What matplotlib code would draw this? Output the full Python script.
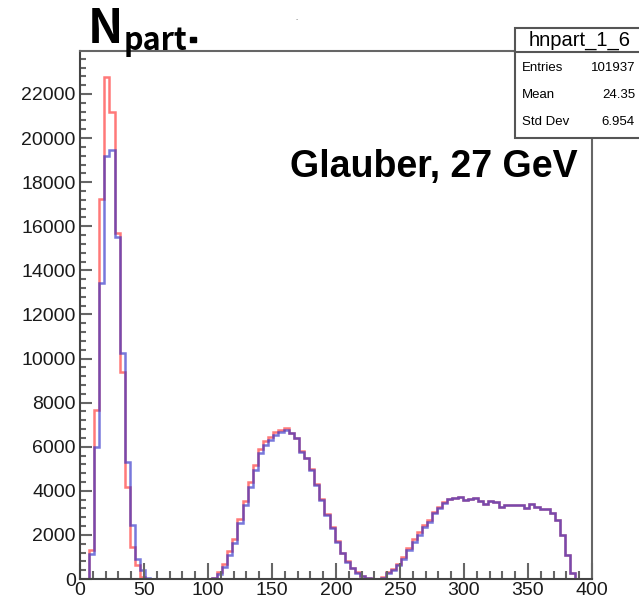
import numpy as np
import matplotlib.pyplot as plt
from matplotlib.patches import Rectangle
from matplotlib.ticker import MultipleLocator

plt.rcParams['font.family'] = ['Liberation Sans', 'DejaVu Sans']

# histogram binning: 4-unit bins starting at -1
bin_lo = -1
bin_w = 4
n_bins = 101

# peak 1 (first bin starts at 7)
peak1_lo = 7
red_peak1 = [1300, 7660, 17220, 22780, 21190, 15680, 9400, 4190, 1470, 620, 100, 0]
blue_peak1 = [1150, 6000, 13440, 19200, 19460, 15520, 10240, 5320, 2450, 900, 420, 60]

# peak 2 (first bin starts at 99)
peak2_lo = 99
red_peak2 = [10, 60, 300, 680, 1250, 1800, 2700, 3550, 4400, 5150, 5880, 6250,
             6450, 6650, 6780, 6850, 6640, 6400, 5800, 5500, 4970, 4300, 3620,
             2950, 2350, 1730, 1200, 820, 510, 300, 150, 40, 0]
blue_peak2 = [10, 30, 220, 560, 1090, 1620, 2530, 3360, 4190, 4940, 5700, 6080,
              6300, 6530, 6680, 6740, 6610, 6380, 5770, 5470, 4940, 4260, 3580,
              2900, 2300, 1690, 1165, 785, 485, 285, 135, 30, 0]

# peak 3 (first bin starts at 231)
peak3_lo = 231
red_peak3 = [0, 80, 320, 460, 700, 980, 1420, 1800, 2120, 2450, 2680, 3050, 3250,
             3480, 3620, 3670, 3700, 3580, 3630, 3660, 3550, 3400, 3540, 3500,
             3280, 3360, 3360, 3360, 3360, 3200, 3400, 3250, 3175, 3175, 2980,
             2680, 2000, 1090, 260, 0]
blue_peak3 = [0, 60, 280, 400, 635, 890, 1315, 1690, 2000, 2340, 2600, 2980, 3200,
              3460, 3610, 3660, 3700, 3580, 3630, 3660, 3550, 3400, 3540, 3500,
              3280, 3360, 3360, 3360, 3360, 3200, 3400, 3250, 3175, 3175, 2980,
              2680, 2000, 1090, 260, 0]

stats_name = 'hnpart_1_6'
stats_rows = [('Entries', '101937'), ('Mean', '24.35'), ('Std Dev', '6.954')]


def fill_counts(parts):
    counts = np.zeros(n_bins)
    for lo, vals in parts:
        i0 = (lo - bin_lo) // bin_w
        counts[i0:i0 + len(vals)] = vals
    return counts


edges = bin_lo + bin_w * np.arange(n_bins + 1)
red = fill_counts([(peak1_lo, red_peak1), (peak2_lo, red_peak2), (peak3_lo, red_peak3)])
blue = fill_counts([(peak1_lo, blue_peak1), (peak2_lo, blue_peak2), (peak3_lo, blue_peak3)])

W, H = 639, 609
fig = plt.figure(figsize=(W / 100, H / 100), dpi=100)
ax = fig.add_axes([80 / W, 1 - 579 / H, 512 / W, 528 / H])

ax.stairs(red, edges, color='#ff4040', alpha=0.7, lw=1.8)
ax.stairs(blue, edges, color='#3030c8', alpha=0.65, lw=1.8)

ax.set_xlim(0, 400)
ax.set_ylim(0, 23950)
ax.xaxis.set_major_locator(MultipleLocator(50))
ax.xaxis.set_minor_locator(MultipleLocator(10))
ax.yaxis.set_major_locator(MultipleLocator(2000))
ax.yaxis.set_minor_locator(MultipleLocator(400))
ax.tick_params(axis='both', which='both', direction='in', colors='#666666',
               labelcolor='#1a1a1a', labelsize=14, width=1.5)
ax.tick_params(axis='x', which='major', length=11.5, pad=2)
ax.tick_params(axis='x', which='minor', length=6)
ax.tick_params(axis='y', which='major', length=8.6, pad=3)
ax.tick_params(axis='y', which='minor', length=4.3)
for s in ax.spines.values():
    s.set_color('#666666')
    s.set_linewidth(1.5)
ax.spines['left'].set_color('#444444')
ax.spines['bottom'].set_color('#444444')

# title
fig.text(88 / W, 1 - 43 / H, 'N', fontsize=34, fontweight='bold',
         family=['Noto Sans CJK JP', 'DejaVu Sans'], va='baseline', ha='left')
fig.text(124 / W, 1 - 50 / H, 'part', fontsize=22, fontweight='bold',
         family=['Noto Sans CJK JP', 'DejaVu Sans'], va='baseline', ha='left')
fig.add_artist(Rectangle((190 / W, 1 - 42 / H), 6 / W, 5 / H, color='black',
                         transform=fig.transFigure))
fig.text(297 / W, 1 - 20 / H, '-', fontsize=5, color='#888888', ha='center', va='center')

# annotation
fig.text(290 / W, 1 - 177 / H, 'Glauber, 27 GeV', fontsize=27, fontweight='bold',
         va='baseline', ha='left')

# stats box
bx0, by0, by1 = 515, 28, 138
fig.add_artist(Rectangle((bx0 / W, 1 - by1 / H), (W + 10 - bx0) / W, (by1 - by0) / H,
                         facecolor='white', edgecolor='#555555', lw=1.5,
                         transform=fig.transFigure, zorder=5))
fig.add_artist(plt.Line2D([bx0 / W, 1.0], [1 - 51.5 / H, 1 - 51.5 / H],
                          color='#555555', lw=1.5, transform=fig.transFigure, zorder=6))
fig.text(580 / W, 1 - 40 / H, stats_name, fontsize=14.5, ha='center', va='center', zorder=7)
for k, (name, val) in enumerate(stats_rows):
    y = 1 - (68 + 27 * k) / H
    fig.text(522 / W, y, name, fontsize=9.5, ha='left', va='center', zorder=7)
    fig.text(635 / W, y, val, fontsize=9.5, ha='right', va='center', zorder=7)

fig.savefig('out.png', dpi=100)
